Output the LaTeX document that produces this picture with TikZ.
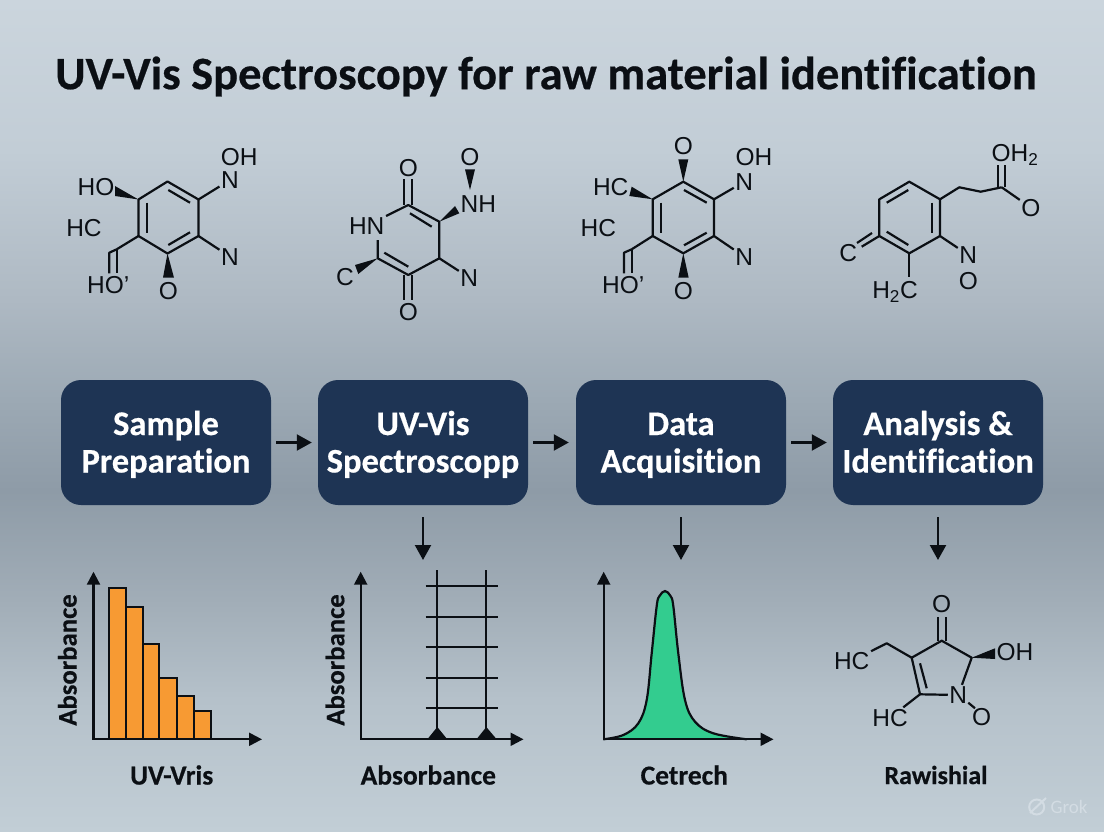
\documentclass[tikz,border=0pt]{standalone}
\usepackage{fontspec}
\setmainfont{Liberation Sans}
\newfontfamily\headfont[Ligatures=NoCommon,BoldFeatures={FakeBold=0.5}]{Carlito}
\usetikzlibrary{arrows.meta}

\definecolor{bgA}{HTML}{CBD5DD}
\definecolor{bgB}{HTML}{C2CDD6}
\definecolor{bgC}{HTML}{AEB9C3}
\definecolor{bgD}{HTML}{9CA9B4}
\definecolor{bgE}{HTML}{8E9BA7}
\definecolor{bgF}{HTML}{A1ADB7}
\definecolor{bgG}{HTML}{B5C1CA}
\definecolor{bgH}{HTML}{C2CED6}
\definecolor{navybox}{HTML}{1E3454}
\definecolor{barfill}{HTML}{F79A33}
\definecolor{peakfill}{HTML}{33CC8F}
\definecolor{inkline}{HTML}{0B0F14}
\definecolor{markfaint}{HTML}{D3DCE3}

\pgfdeclareverticalshading{backdrop}{100bp}{color(0bp)=(bgH); color(25bp)=(bgH); color(33bp)=(bgG); color(39bp)=(bgF); color(45.5bp)=(bgE); color(51bp)=(bgD); color(57bp)=(bgC); color(66bp)=(bgB); color(75bp)=(bgA); color(100bp)=(bgA)}

\newcommand{\steplines}[2]{\rule{0pt}{31.5pt}#1\\#2\rule[-9pt]{0pt}{9pt}}

\tikzset{
    atom/.style={font=\fontsize{24.5}{24.5}\selectfont, text=inkline, inner sep=1.5pt},
    bond/.style={draw=inkline, line width=2.2pt, line join=round},
    wedgebond/.style={fill=inkline},
    stepbox/.style={fill=navybox, rounded corners=20pt, minimum width=210pt, minimum height=125pt, align=center, text=white, inner sep=0pt, font=\headfont\bfseries\fontsize{34.5}{37.5}\selectfont},
    flow/.style={draw=inkline, line width=2.2pt, -{Triangle[length=15pt,width=16pt]}},
    axisline/.style={draw=inkline, line width=2.2pt, {Triangle[length=13pt,width=13pt]}-{Triangle[length=13pt,width=13pt]}},
    gridline/.style={draw=inkline, line width=2.2pt},
    barstyle/.style={draw=inkline, fill=barfill, line width=2.2pt},
    ylabel/.style={rotate=90, text=inkline, inner sep=0pt, font=\headfont\bfseries\fontsize{26.7}{26.7}\selectfont},
    xlabel/.style={text=inkline, inner sep=0pt, font=\headfont\bfseries\fontsize{27.5}{27.5}\selectfont}
}

\begin{document}
\begin{tikzpicture}[x=1pt,y=-1pt]

    \useasboundingbox (0,0) rectangle (1104,832);
    \shade[shading=backdrop] (0,0) rectangle (1104,832);

    \node (title) [text=inkline, inner sep=0pt, font=\headfont\bfseries\fontsize{46.5}{46.5}\selectfont] at (546,76.5) {UV-Vis Spectroscopy for raw material identification};

    % first molecule
    \coordinate (aT) at (167.5,181.5);
    \coordinate (aUR) at (198.5,199.5);
    \coordinate (aLR) at (198.5,236);
    \coordinate (aB) at (167.5,253.5);
    \coordinate (aLL) at (138.5,236);
    \coordinate (aUL) at (138.5,199.5);
    \coordinate (aCH) at (116.7,249.3);
    \node (aNa) [atom] at (230,180) {N};
    \node (aOH) [atom] at (239.3,156.7) {OH};
    \node (aNb) [atom] at (230,256.7) {N};
    \node (aHO) [atom] at (96,187.3) {HO};
    \node (aHC) [atom] at (84,227.7) {HC};
    \node (aHOb) [atom] at (108.3,285) {HO’};
    \node (aO) [atom] at (168.3,291) {O};
    \draw[bond] (aT) -- (aUR) -- (aLR) -- (aB) -- (aLL) -- (aUL) -- cycle;
    \draw[bond] (168.3,190) -- (190,202.7);
    \draw[bond] (190,232.3) -- (168.3,245);
    \draw[bond] (146.7,202.7) -- (146.7,232.7);
    \draw[bond] (aUR) -- (aNa);
    \draw[bond] (aLR) -- (aNb);
    \draw[bond] (aLL) -- (aCH);
    \draw[bond] (aCH) -- (116.7,273.3);
    \draw[bond] (aCH) -- (109.3,252.7) -- (109.3,273.3);
    \fill[wedgebond] (aUL) -- (115,186) -- (115,196) -- cycle;
    \fill[wedgebond] (aB) -- (163,277.7) -- (174,277.7) -- cycle;

    % second molecule
    \coordinate (bT) at (408.3,205);
    \coordinate (bRT) at (439.3,221.7);
    \coordinate (bRB) at (439.3,258.3);
    \coordinate (bB) at (408.3,275);
    \coordinate (bLB) at (377.7,258.3);
    \node (bHN) [atom] at (366.7,226) {HN};
    \node (bOa) [atom] at (408.3,167.7) {O};
    \node (bOb) [atom] at (408.3,311.7) {O};
    \node (bNH) [atom] at (478.3,204) {NH};
    \node (bOc) [atom] at (470,157.3) {O};
    \node (bN) [atom] at (469.3,277.7) {N};
    \node (bC) [atom] at (345,276.7) {C};
    \draw[bond] (bHN.east |- 0,216) -- (bT) -- (bRT) -- (bRB) -- (bB) -- (bLB) -- (377.7,240);
    \draw[bond] (410,213.3) -- (431.7,226.7);
    \draw[bond] (408.3,266.7) -- (384.3,252.7);
    \draw[bond] (404.3,205) -- (404.3,179);
    \draw[bond] (412.3,205) -- (412.3,179);
    \draw[bond] (404.3,275) -- (404.3,300);
    \draw[bond] (412.3,275) -- (412.3,300);
    \draw[bond] (bRB) -- (bN);
    \fill[wedgebond] (bRT) -- (459.3,213.3) -- (455,206) -- cycle;
    \fill[wedgebond] (470,190) -- (465,169.3) -- (475,169.3) -- cycle;
    \fill[wedgebond] (bLB) -- (355,265) -- (358.3,274) -- cycle;

    % third molecule
    \coordinate (cT) at (683.3,181.7);
    \coordinate (cUR) at (714,199.3);
    \coordinate (cLR) at (714,236);
    \coordinate (cB) at (683.3,253.3);
    \coordinate (cLL) at (652.7,236);
    \coordinate (cUL) at (652.7,199.3);
    \coordinate (cCH) at (631.7,249.3);
    \node (cOa) [atom] at (683.3,146) {O};
    \node (cOH) [atom] at (754,156.7) {OH};
    \node (cNa) [atom] at (744.3,181.7) {N};
    \node (cNb) [atom] at (744.3,256.7) {N};
    \node (cHCa) [atom] at (610.7,187.3) {HC};
    \node (cHCb) [atom] at (598.3,227.7) {HC};
    \node (cHO) [atom] at (623.3,285) {HO’};
    \node (cOb) [atom] at (683.3,291) {O};
    \draw[bond] (cT) -- (cUR) -- (cLR) -- (cB) -- (cLL) -- (cUL) -- cycle;
    \draw[bond] (684,190) -- (706.7,202.7);
    \draw[bond] (706.7,232.7) -- (684,245.3);
    \draw[bond] (661,202.7) -- (661,232.7);
    \draw[bond] (cUR) -- (cNa);
    \draw[bond] (cLR) -- (cNb);
    \draw[bond] (cLL) -- (cCH);
    \draw[bond] (cCH) -- (631.7,273.3);
    \draw[bond] (cCH) -- (624,252.7) -- (624,273.3);
    \fill[wedgebond] (cT) -- (678.3,159.3) -- (688.3,159.3) -- cycle;
    \fill[wedgebond] (cUL) -- (631.7,186.7) -- (629.3,196) -- cycle;
    \fill[wedgebond] (cB) -- (678.3,277.7) -- (688.7,277.7) -- cycle;

    % fourth molecule
    \coordinate (dT) at (909.3,181.7);
    \coordinate (dUR) at (940,199.3);
    \coordinate (dLR) at (940,236);
    \coordinate (dB) at (909.3,253.3);
    \coordinate (dLL) at (879.3,236);
    \coordinate (dUL) at (879.3,199.3);
    \coordinate (dAa) at (959.3,187.3);
    \coordinate (dAb) at (980.7,191.7);
    \coordinate (dAc) at (1001.7,187.3);
    \node (dOH) [atom] at (1015,155) {OH\textsubscript{2}};
    \node (dO) [atom] at (1031,207.7) {O};
    \node (dC) [atom] at (848.3,252.7) {C};
    \node (dHC) [atom] at (895,291.7) {H\textsubscript{2}C};
    \node (dN) [atom] at (968.3,255) {N};
    \node (dOb) [atom] at (968.3,280.7) {O};
    \draw[bond] (dT) -- (dUR) -- (dLR) -- (dB) -- (dLL) -- (dUL) -- cycle;
    \draw[bond] (886.7,202.7) -- (908.3,190);
    \draw[bond] (931.7,202.7) -- (931.7,232.7);
    \draw[bond] (886.7,231.7) -- (908.3,245);
    \draw[bond] (dUR) -- (dAa) -- (dAb) -- (dAc);
    \draw[bond] (dAc) -- (dO);
    \draw[bond] (997.7,187.3) -- (997.7,165);
    \draw[bond] (1005,187.3) -- (1005,165);
    \draw[bond] (dLL) -- (861.7,246.7);
    \draw[bond] (872,233) -- (857,243);
    \draw[bond] (dB) -- (909.3,276.7);
    \draw[bond] (dLR) -- (dN);

    % process steps
    \node (sample) [stepbox] at (166,442.5) {\steplines{Sample}{Preparation}};
    \node (uvvis) [stepbox] at (423,442.5) {\steplines{UV-Vis}{Spectroscopp}};
    \node (acquire) [stepbox] at (681,442.5) {\steplines{Data}{Acquisition}};
    \node (analysis) [stepbox] at (938,442.5) {\steplines{Analysis \&}{Identification}};

    \draw[flow, shorten <=5pt, shorten >=6pt] (sample) -- (uvvis);
    \draw[flow, shorten <=5pt, shorten >=7pt] (uvvis) -- (acquire);
    \draw[flow, shorten <=5pt, shorten >=6pt] (acquire) -- (analysis);

    \coordinate (gridtop) at (423,560);
    \coordinate (peaktop) at (681,560);
    \coordinate (ringtop) at (938,560);
    \draw[flow, shorten <=12pt] (uvvis.south) -- (gridtop);
    \draw[flow, shorten <=12pt] (acquire.south) -- (peaktop);
    \draw[flow, shorten <=12pt] (analysis.south) -- (ringtop);

    % bar chart
    \draw[barstyle] (109,739.3) rectangle (126,588.3);
    \draw[barstyle] (126,739.3) rectangle (142.7,606.7);
    \draw[barstyle] (142.7,739.3) rectangle (159.3,644);
    \draw[barstyle] (159.3,739.3) rectangle (176.7,678.3);
    \draw[barstyle] (176.7,739.3) rectangle (194,695.7);
    \draw[barstyle] (194,739.3) rectangle (211,710.7);
    \coordinate (fO) at (93.5,739.3);
    \coordinate (fY) at (93.5,571.7);
    \coordinate (fX) at (262,739.3);
    \draw[axisline] (fY) -- (fO) -- (fX);
    \node (fYlab) [ylabel] at (67.3,660) {Absorbance};
    \node (fXlab) [xlabel] at (171.7,775) {UV-Vris};

    % ladder chart
    \coordinate (gO) at (360.7,739.3);
    \coordinate (gY) at (360.7,571.7);
    \coordinate (gX) at (523.5,739.3);
    \draw[axisline] (gY) -- (gO) -- (gX);
    \draw[gridline] (437.3,570) -- (437.3,739);
    \draw[gridline] (486.3,570) -- (486.3,739);
    \draw[gridline] (425.7,586) -- (497.7,586);
    \draw[gridline] (425.7,616.7) -- (497.7,616.7);
    \draw[gridline] (425.7,647.3) -- (497.7,647.3);
    \draw[gridline] (425.7,677.7) -- (497.7,677.7);
    \draw[gridline] (425.7,707.7) -- (497.7,707.7);
    \fill[inkline] (427.3,739.3) -- (437.3,727) -- (447.3,739.3) -- cycle;
    \fill[inkline] (476.5,739.3) -- (486.3,727) -- (496.7,739.3) -- cycle;
    \node (gYlab) [ylabel] at (335,660) {Absorbance};
    \node (gXlab) [xlabel] at (428.3,775) {Absorbance};

    % peak chart
    \draw[draw=inkline, fill=peakfill, line width=2.2pt] plot[smooth, tension=0.6] coordinates {(603.3,739.3) (623.3,735) (638.3,723.3) (646.7,700) (651.7,653.3) (656.7,606) (659.5,596) (665,591) (670.5,596) (673.3,606) (678.3,653.3) (685,700) (695,721.7) (713.3,733.3) (746.7,739.3)};
    \coordinate (hO) at (603.7,739.3);
    \coordinate (hY) at (603.7,571.7);
    \coordinate (hX) at (773.5,739.3);
    \draw[axisline] (hY) -- (hO) -- (hX);
    \node (hXlab) [xlabel] at (684.3,775) {Cetrech};

    % ring at the end
    \coordinate (eT) at (941.7,640.7);
    \coordinate (eR) at (971.7,657.7);
    \coordinate (eLL) at (920,694.3);
    \coordinate (eUL) at (911.7,657.7);
    \coordinate (eCH) at (886.7,643.3);
    \node (eN) [atom] at (958.3,695) {N};
    \node (eO) [atom] at (941.7,604.3) {O};
    \node (eOH) [atom] at (1015,652.3) {OH};
    \node (eHCa) [atom] at (851.7,661) {HC};
    \node (eHCb) [atom] at (890,717.7) {HC};
    \node (eOb) [atom] at (981.7,717.3) {O};
    \draw[bond] (eUL) -- (eT) -- (eR) -- (eN);
    \draw[bond] (eN) -- (eLL) -- (eUL);
    \draw[bond] (920,663.3) -- (926.7,688.3);
    \draw[bond] (938,640.7) -- (938,617);
    \draw[bond] (945.7,640.7) -- (945.7,617);
    \draw[bond] (eUL) -- (eCH) -- (eHCa);
    \draw[bond] (eLL) -- (eHCb);
    \draw[bond] (968.3,702.7) -- (975,708.3);
    \fill[wedgebond] (eR) -- (995,648.3) -- (995,659) -- cycle;
    \node (eXlab) [xlabel, font=\headfont\bfseries\fontsize{26}{26}\selectfont] at (936,775) {Rawishial};

    % faint mark in the corner
    \draw[markfaint, line width=2pt] (1036.7,807) circle [radius=7.5];
    \draw[markfaint, line width=2pt] (1030,813) -- (1046,798);
    \node (grok) [text=markfaint, inner sep=0pt, font=\headfont\fontsize{19}{19}\selectfont] at (1069,807) {Grok};

\end{tikzpicture}
\end{document}
